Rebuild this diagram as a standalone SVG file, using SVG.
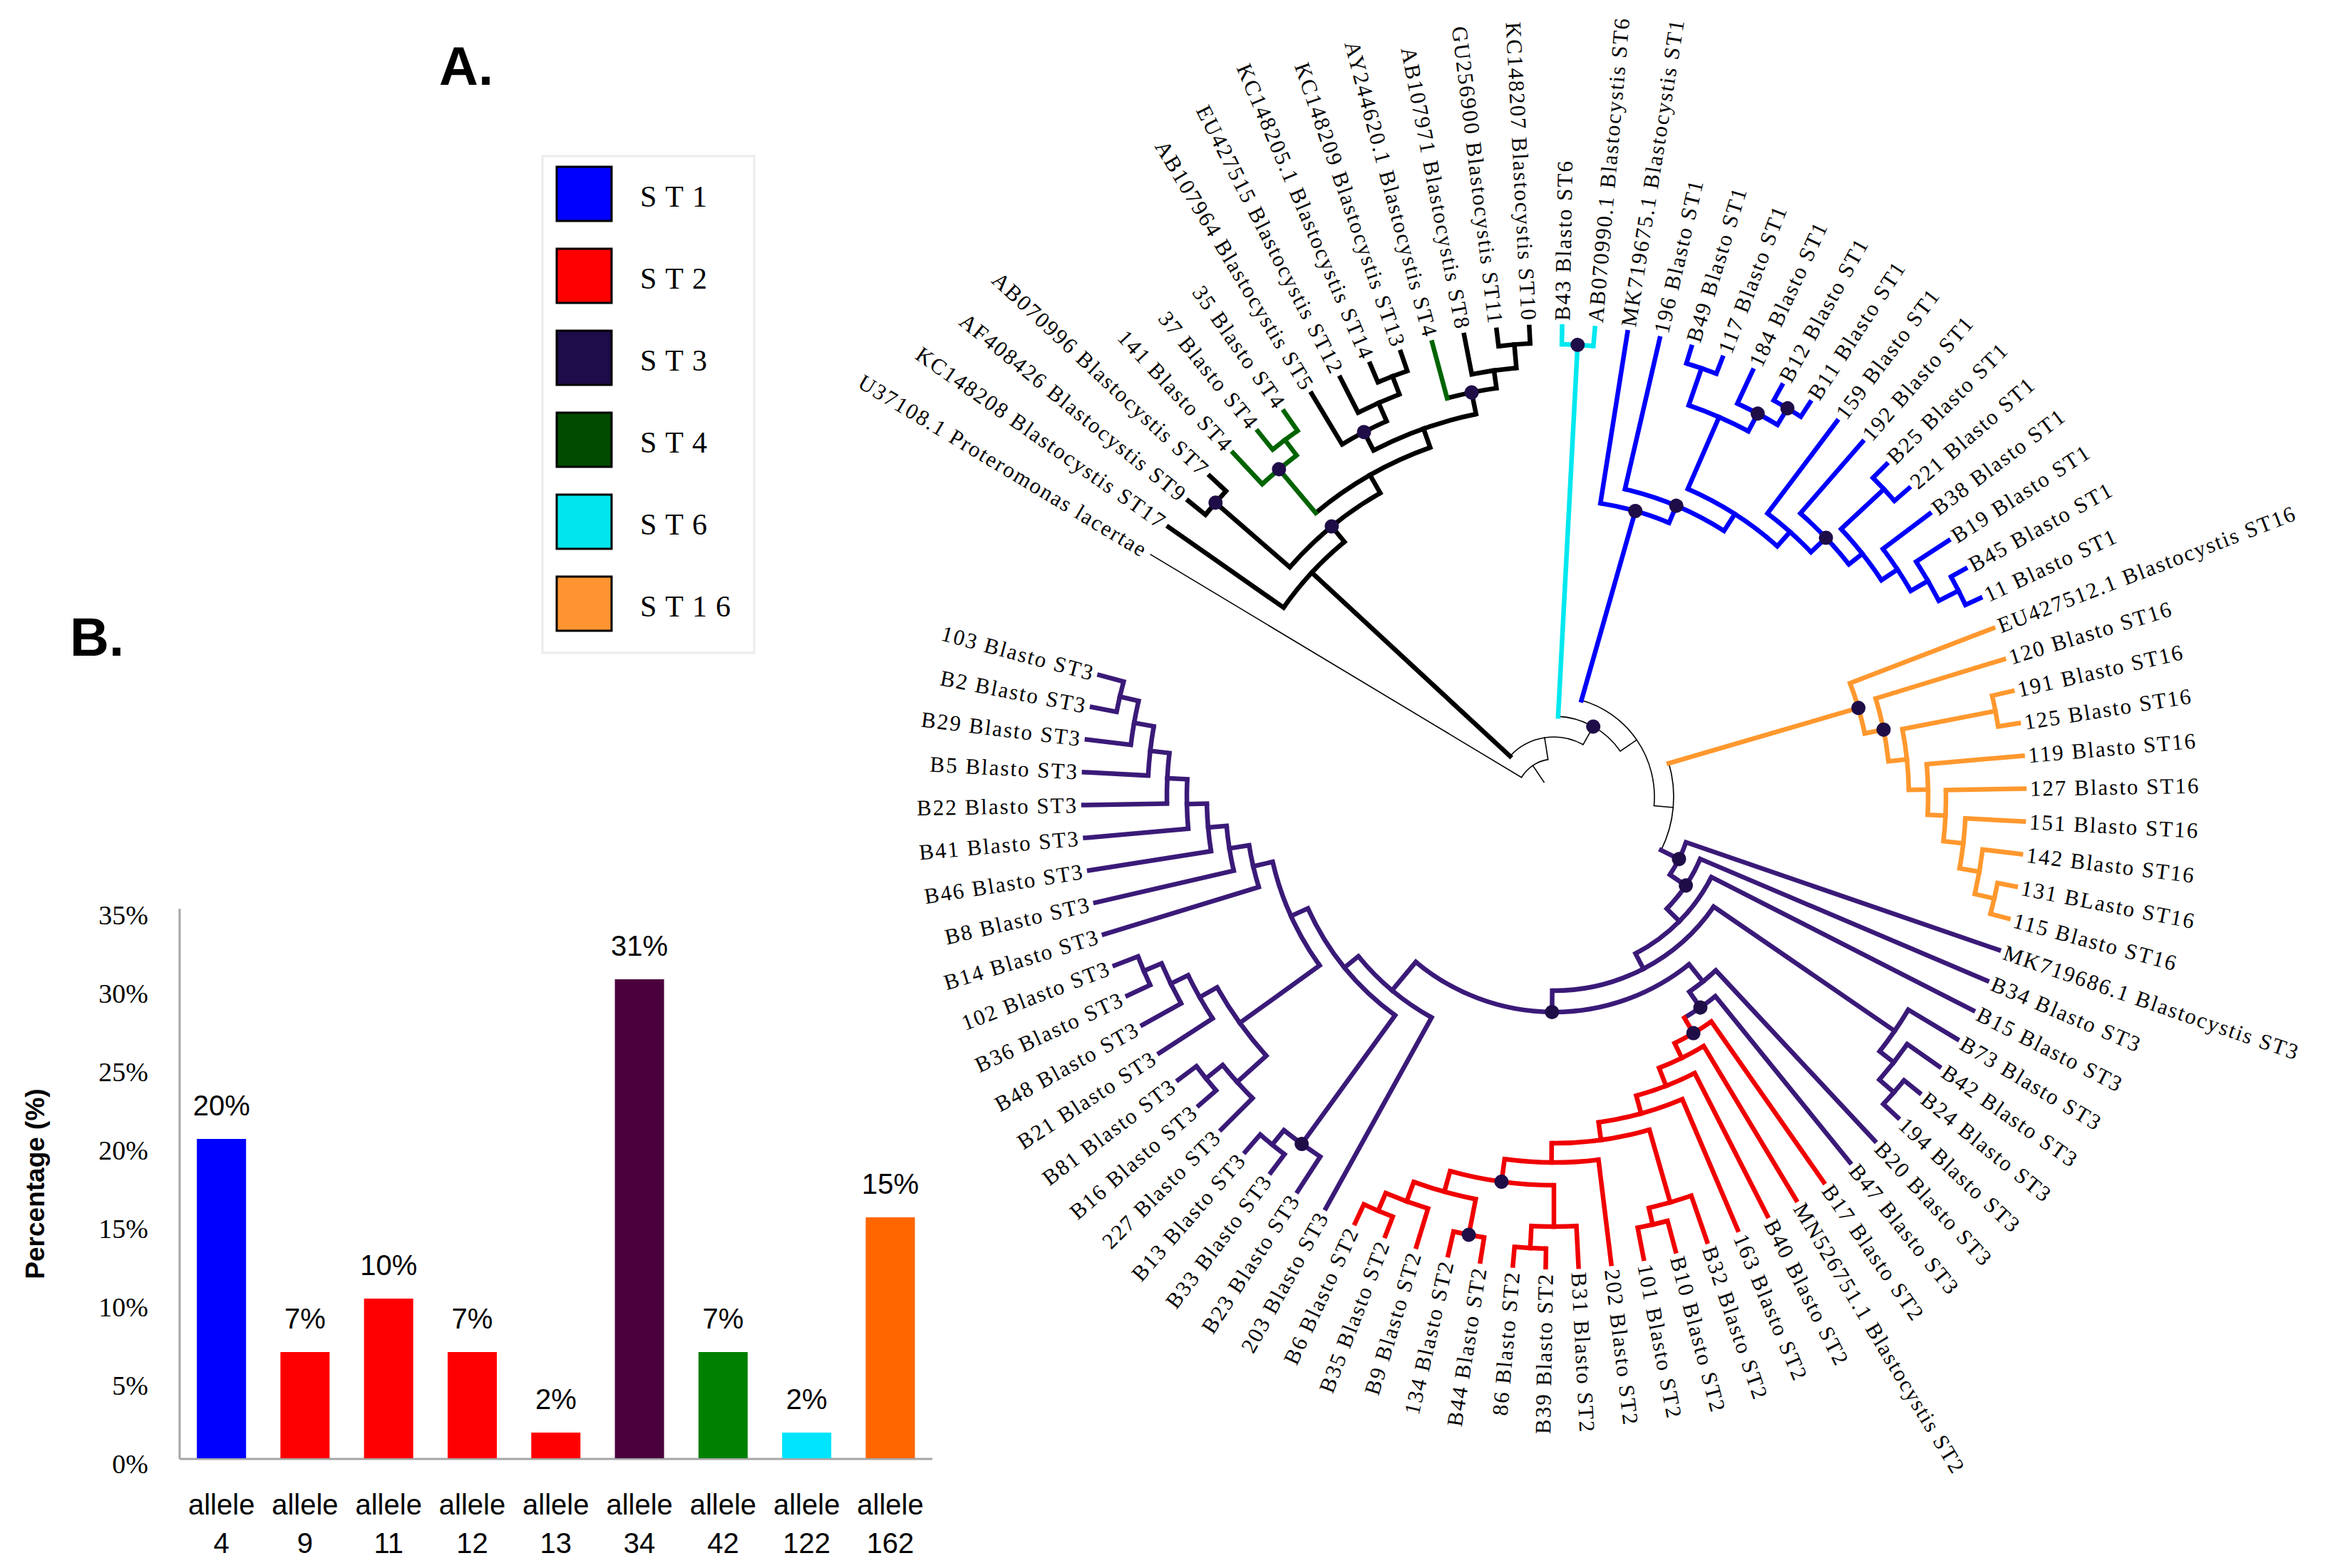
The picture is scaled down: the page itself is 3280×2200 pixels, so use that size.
<svg xmlns="http://www.w3.org/2000/svg" width="3280" height="2200" viewBox="0 0 3280 2200">
<style>
text{font-family:"Liberation Serif","Times New Roman",serif}
.lf{font-size:31px;letter-spacing:2px;dominant-baseline:central;fill:#000}
.e{text-anchor:end}
line{stroke-width:6.5;stroke-linecap:square;fill:none}
.a{fill:none;stroke-width:6.5}
.t{stroke:#000;stroke-width:1.6}
.K{stroke:#000}
.B{stroke:#0000fa}
.R{stroke:#f00000}
.P{stroke:#3a1a78}
.O{stroke:#ff982e}
.G{stroke:#006400}
.C{stroke:#00e8ef}
.d{fill:#1f0d48}
.sw{stroke:#000;stroke-width:3}
.lg{font-size:42px;letter-spacing:12px;fill:#000}
.s{font-family:"Liberation Sans",Arial,sans-serif}
.ax{font-size:38px;fill:#000}
.xl{font-size:40px;fill:#000;text-anchor:middle}
.axl{stroke:#a6a6a6;stroke-width:3;stroke-linecap:butt}
.hd{font-family:"Liberation Sans",Arial,sans-serif;font-weight:bold;font-size:76px;fill:#000}
</style>
<rect width="3280" height="2200" fill="#fff"/>
<text class="hd" x="616" y="119">A.</text>
<text class="hd" x="98" y="920">B.</text>
<g id="legend">
<rect x="761" y="219" width="297" height="697" fill="#fff" stroke="#ececec" stroke-width="3"/>
<g id="leg-st1"><rect class="sw" x="781" y="234" width="77" height="76" fill="#0000ff"/><text class="lg" x="898" y="290">ST1</text></g>
<g id="leg-st2"><rect class="sw" x="781" y="349" width="77" height="76" fill="#ff0000"/><text class="lg" x="898" y="405">ST2</text></g>
<g id="leg-st3"><rect class="sw" x="781" y="464" width="77" height="76" fill="#1d0b4a"/><text class="lg" x="898" y="520">ST3</text></g>
<g id="leg-st4"><rect class="sw" x="781" y="579" width="77" height="76" fill="#004b00"/><text class="lg" x="898" y="635">ST4</text></g>
<g id="leg-st6"><rect class="sw" x="781" y="694" width="77" height="76" fill="#00e6ec"/><text class="lg" x="898" y="750">ST6</text></g>
<g id="leg-st16"><rect class="sw" x="781" y="809" width="77" height="76" fill="#ff9430"/><text class="lg" x="898" y="865">ST16</text></g>
</g>
<g id="tree" transform="translate(2180 1118)">
<g id="connectors">
<line class="t" x1="25" x2="53" transform="rotate(-124)"/>
<circle class="a t" r="53" pathLength="360" stroke-dasharray="50.02 360" transform="rotate(-149)"/>
<line class="t" x1="53" x2="660" transform="rotate(-149)"/>
<line class="t" x1="53" x2="84" transform="rotate(-98.98)"/>
<circle class="a t" r="84" pathLength="360" stroke-dasharray="76.45 360" transform="rotate(-137.2)"/>
<line class="t" x1="84" x2="113" transform="rotate(-60.75)"/>
<circle class="a t" r="113" pathLength="360" stroke-dasharray="52.5 360" transform="rotate(-87)"/>
<line class="t" x1="113" x2="141" transform="rotate(-34.5)"/>
<circle class="a t" r="141" pathLength="360" stroke-dasharray="79.19 360" transform="rotate(-74.1)"/>
<line class="t" x1="141" x2="168" transform="rotate(5.09)"/>
<circle class="a t" r="168" pathLength="360" stroke-dasharray="42.72 360" transform="rotate(-16.27)"/>

<line class="K" x1="84" x2="463" transform="rotate(-137.2)"/>
<circle class="a K" r="463" pathLength="360" stroke-dasharray="15.6 360" transform="rotate(-145)"/>
<line class="K" x1="463" x2="660" transform="rotate(-145)"/>
<line class="K" x1="463" x2="491" transform="rotate(-129.4)"/>
<circle class="a K" r="491" pathLength="360" stroke-dasharray="19.25 360" transform="rotate(-139)"/>
<line class="K" x1="491" x2="629" transform="rotate(-139)"/>
<circle class="a K" r="629" pathLength="360" stroke-dasharray="4 360" transform="rotate(-141)"/>
<line class="K" x1="629" x2="660" transform="rotate(-141)"/>
<line class="K" x1="629" x2="660" transform="rotate(-137)"/>
<line class="K" x1="491" x2="520" transform="rotate(-119.75)"/>
<circle class="a K" r="520" pathLength="360" stroke-dasharray="20.5 360" transform="rotate(-130)"/>
<line class="K" x1="520" x2="548" transform="rotate(-109.5)"/>
<circle class="a K" r="548" pathLength="360" stroke-dasharray="16 360" transform="rotate(-117.5)"/>
<line class="K" x1="548" x2="577" transform="rotate(-117.5)"/>
<circle class="a K" r="577" pathLength="360" stroke-dasharray="7 360" transform="rotate(-121)"/>
<line class="K" x1="577" x2="660" transform="rotate(-121)"/>
<line class="K" x1="577" x2="605" transform="rotate(-114)"/>
<circle class="a K" r="605" pathLength="360" stroke-dasharray="6 360" transform="rotate(-117)"/>
<line class="K" x1="605" x2="660" transform="rotate(-117)"/>
<line class="K" x1="605" x2="632" transform="rotate(-111)"/>
<circle class="a K" r="632" pathLength="360" stroke-dasharray="4 360" transform="rotate(-113)"/>
<line class="K" x1="632" x2="660" transform="rotate(-113)"/>
<line class="K" x1="632" x2="660" transform="rotate(-109)"/>
<line class="K" x1="548" x2="579" transform="rotate(-101.5)"/>
<circle class="a K" r="579" pathLength="360" stroke-dasharray="7 360" transform="rotate(-105)"/>
<line class="K" x1="579" x2="604" transform="rotate(-98)"/>
<circle class="a K" r="604" pathLength="360" stroke-dasharray="6 360" transform="rotate(-101)"/>
<line class="K" x1="604" x2="660" transform="rotate(-101)"/>
<line class="K" x1="604" x2="637" transform="rotate(-95)"/>
<circle class="a K" r="637" pathLength="360" stroke-dasharray="4 360" transform="rotate(-97)"/>
<line class="K" x1="637" x2="660" transform="rotate(-97)"/>
<line class="K" x1="637" x2="660" transform="rotate(-93)"/>
<line class="G" x1="520" x2="600" transform="rotate(-130)"/>
<circle class="a G" r="600" pathLength="360" stroke-dasharray="6 360" transform="rotate(-133)"/>
<line class="G" x1="600" x2="660" transform="rotate(-133)"/>
<line class="G" x1="600" x2="627" transform="rotate(-127)"/>
<circle class="a G" r="627" pathLength="360" stroke-dasharray="4 360" transform="rotate(-129)"/>
<line class="G" x1="627" x2="660" transform="rotate(-129)"/>
<line class="G" x1="627" x2="660" transform="rotate(-125)"/>
<line class="G" x1="579" x2="660" transform="rotate(-105)"/>

<line class="C" x1="113" x2="635" transform="rotate(-87)"/>
<circle class="a C" r="635" pathLength="360" stroke-dasharray="4 360" transform="rotate(-89)"/>
<line class="C" x1="635" x2="660" transform="rotate(-89)"/>
<line class="C" x1="635" x2="660" transform="rotate(-85)"/>

<line class="B" x1="141" x2="417" transform="rotate(-74.1)"/>
<circle class="a B" r="417" pathLength="360" stroke-dasharray="13.8 360" transform="rotate(-81)"/>
<line class="B" x1="417" x2="660" transform="rotate(-81)"/>
<line class="B" x1="417" x2="443" transform="rotate(-67.2)"/>
<circle class="a B" r="443" pathLength="360" stroke-dasharray="19.6 360" transform="rotate(-77)"/>
<line class="B" x1="443" x2="660" transform="rotate(-77)"/>
<line class="B" x1="443" x2="471" transform="rotate(-57.4)"/>
<circle class="a B" r="471" pathLength="360" stroke-dasharray="18.2 360" transform="rotate(-66.5)"/>
<line class="B" x1="471" x2="581" transform="rotate(-66.5)"/>
<circle class="a B" r="581" pathLength="360" stroke-dasharray="9 360" transform="rotate(-71)"/>
<line class="B" x1="581" x2="636" transform="rotate(-71)"/>
<circle class="a B" r="636" pathLength="360" stroke-dasharray="4 360" transform="rotate(-73)"/>
<line class="B" x1="636" x2="660" transform="rotate(-73)"/>
<line class="B" x1="636" x2="660" transform="rotate(-69)"/>
<line class="B" x1="581" x2="609" transform="rotate(-62)"/>
<circle class="a B" r="609" pathLength="360" stroke-dasharray="6 360" transform="rotate(-65)"/>
<line class="B" x1="609" x2="660" transform="rotate(-65)"/>
<line class="B" x1="609" x2="636" transform="rotate(-59)"/>
<circle class="a B" r="636" pathLength="360" stroke-dasharray="4 360" transform="rotate(-61)"/>
<line class="B" x1="636" x2="660" transform="rotate(-61)"/>
<line class="B" x1="636" x2="660" transform="rotate(-57)"/>
<line class="B" x1="471" x2="498" transform="rotate(-48.3)"/>
<circle class="a B" r="498" pathLength="360" stroke-dasharray="9.4 360" transform="rotate(-53)"/>
<line class="B" x1="498" x2="660" transform="rotate(-53)"/>
<line class="B" x1="498" x2="527" transform="rotate(-43.6)"/>
<circle class="a B" r="527" pathLength="360" stroke-dasharray="10.75 360" transform="rotate(-49)"/>
<line class="B" x1="527" x2="660" transform="rotate(-49)"/>
<line class="B" x1="527" x2="551" transform="rotate(-38.25)"/>
<circle class="a B" r="551" pathLength="360" stroke-dasharray="9.5 360" transform="rotate(-43)"/>
<line class="B" x1="551" x2="633" transform="rotate(-43)"/>
<circle class="a B" r="633" pathLength="360" stroke-dasharray="4 360" transform="rotate(-45)"/>
<line class="B" x1="633" x2="660" transform="rotate(-45)"/>
<line class="B" x1="633" x2="660" transform="rotate(-41)"/>
<line class="B" x1="551" x2="578" transform="rotate(-33.5)"/>
<circle class="a B" r="578" pathLength="360" stroke-dasharray="7 360" transform="rotate(-37)"/>
<line class="B" x1="578" x2="660" transform="rotate(-37)"/>
<line class="B" x1="578" x2="606" transform="rotate(-30)"/>
<circle class="a B" r="606" pathLength="360" stroke-dasharray="6 360" transform="rotate(-33)"/>
<line class="B" x1="606" x2="660" transform="rotate(-33)"/>
<line class="B" x1="606" x2="637" transform="rotate(-27)"/>
<circle class="a B" r="637" pathLength="360" stroke-dasharray="4 360" transform="rotate(-29)"/>
<line class="B" x1="637" x2="660" transform="rotate(-29)"/>
<line class="B" x1="637" x2="660" transform="rotate(-25)"/>

<line class="O" x1="168" x2="445" transform="rotate(-16.27)"/>
<circle class="a O" r="445" pathLength="360" stroke-dasharray="9.47 360" transform="rotate(-21)"/>
<line class="O" x1="445" x2="660" transform="rotate(-21)"/>
<line class="O" x1="445" x2="472" transform="rotate(-11.53)"/>
<circle class="a O" r="472" pathLength="360" stroke-dasharray="10.94 360" transform="rotate(-17)"/>
<line class="O" x1="472" x2="660" transform="rotate(-17)"/>
<line class="O" x1="472" x2="498" transform="rotate(-6.06)"/>
<circle class="a O" r="498" pathLength="360" stroke-dasharray="9.875 360" transform="rotate(-11)"/>
<line class="O" x1="498" x2="631" transform="rotate(-11)"/>
<circle class="a O" r="631" pathLength="360" stroke-dasharray="4 360" transform="rotate(-13)"/>
<line class="O" x1="631" x2="660" transform="rotate(-13)"/>
<line class="O" x1="631" x2="660" transform="rotate(-9)"/>
<line class="O" x1="498" x2="525" transform="rotate(-1.125)"/>
<circle class="a O" r="525" pathLength="360" stroke-dasharray="7.75 360" transform="rotate(-5)"/>
<line class="O" x1="525" x2="660" transform="rotate(-5)"/>
<line class="O" x1="525" x2="550" transform="rotate(2.75)"/>
<circle class="a O" r="550" pathLength="360" stroke-dasharray="7.5 360" transform="rotate(-1)"/>
<line class="O" x1="550" x2="660" transform="rotate(-1)"/>
<line class="O" x1="550" x2="578" transform="rotate(6.5)"/>
<circle class="a O" r="578" pathLength="360" stroke-dasharray="7 360" transform="rotate(3)"/>
<line class="O" x1="578" x2="660" transform="rotate(3)"/>
<line class="O" x1="578" x2="606" transform="rotate(10)"/>
<circle class="a O" r="606" pathLength="360" stroke-dasharray="6 360" transform="rotate(7)"/>
<line class="O" x1="606" x2="660" transform="rotate(7)"/>
<line class="O" x1="606" x2="634" transform="rotate(13)"/>
<circle class="a O" r="634" pathLength="360" stroke-dasharray="4 360" transform="rotate(11)"/>
<line class="O" x1="634" x2="660" transform="rotate(11)"/>
<line class="O" x1="634" x2="660" transform="rotate(15)"/>

<line class="P" x1="168" x2="196" transform="rotate(26.45)"/>
<circle class="a P" r="196" pathLength="360" stroke-dasharray="14.9 360" transform="rotate(19)"/>
<line class="P" x1="196" x2="660" transform="rotate(19)"/>
<line class="P" x1="196" x2="223" transform="rotate(33.9)"/>
<circle class="a P" r="223" pathLength="360" stroke-dasharray="21.75 360" transform="rotate(23)"/>
<line class="P" x1="223" x2="660" transform="rotate(23)"/>
<line class="P" x1="223" x2="248" transform="rotate(44.75)"/>
<circle class="a P" r="248" pathLength="360" stroke-dasharray="35.5 360" transform="rotate(27)"/>
<line class="P" x1="248" x2="660" transform="rotate(27)"/>
<line class="P" x1="248" x2="272" transform="rotate(62.5)"/>
<circle class="a P" r="272" pathLength="360" stroke-dasharray="56 360" transform="rotate(34.5)"/>
<line class="P" x1="272" x2="580" transform="rotate(34.5)"/>
<circle class="a P" r="580" pathLength="360" stroke-dasharray="7 360" transform="rotate(31)"/>
<line class="P" x1="580" x2="660" transform="rotate(31)"/>
<line class="P" x1="580" x2="605" transform="rotate(38)"/>
<circle class="a P" r="605" pathLength="360" stroke-dasharray="6 360" transform="rotate(35)"/>
<line class="P" x1="605" x2="660" transform="rotate(35)"/>
<line class="P" x1="605" x2="632" transform="rotate(41)"/>
<circle class="a P" r="632" pathLength="360" stroke-dasharray="4 360" transform="rotate(39)"/>
<line class="P" x1="632" x2="660" transform="rotate(39)"/>
<line class="P" x1="632" x2="660" transform="rotate(43)"/>
<line class="P" x1="272" x2="302" transform="rotate(90.5)"/>
<circle class="a P" r="302" pathLength="360" stroke-dasharray="78.8 360" transform="rotate(51.1)"/>
<line class="P" x1="302" x2="333" transform="rotate(51.1)"/>
<circle class="a P" r="333" pathLength="360" stroke-dasharray="8.2 360" transform="rotate(47)"/>
<line class="P" x1="333" x2="660" transform="rotate(47)"/>
<line class="P" x1="333" x2="360" transform="rotate(55.2)"/>
<circle class="a P" r="360" pathLength="360" stroke-dasharray="8.45 360" transform="rotate(51)"/>
<line class="P" x1="360" x2="660" transform="rotate(51)"/>
<line class="P" x1="302" x2="354" transform="rotate(129.9)"/>
<circle class="a P" r="354" pathLength="360" stroke-dasharray="21.8 360" transform="rotate(119)"/>
<line class="P" x1="354" x2="660" transform="rotate(119)"/>
<line class="P" x1="354" x2="379" transform="rotate(140.8)"/>
<circle class="a P" r="379" pathLength="360" stroke-dasharray="29.6 360" transform="rotate(126)"/>
<line class="P" x1="379" x2="602" transform="rotate(126)"/>
<circle class="a P" r="602" pathLength="360" stroke-dasharray="6 360" transform="rotate(123)"/>
<line class="P" x1="602" x2="660" transform="rotate(123)"/>
<line class="P" x1="602" x2="628" transform="rotate(129)"/>
<circle class="a P" r="628" pathLength="360" stroke-dasharray="4 360" transform="rotate(127)"/>
<line class="P" x1="628" x2="660" transform="rotate(127)"/>
<line class="P" x1="628" x2="660" transform="rotate(131)"/>
<line class="P" x1="379" x2="405" transform="rotate(155.6)"/>
<circle class="a P" r="405" pathLength="360" stroke-dasharray="22.73 360" transform="rotate(144.25)"/>
<line class="P" x1="405" x2="543" transform="rotate(144.25)"/>
<circle class="a P" r="543" pathLength="360" stroke-dasharray="12.5 360" transform="rotate(138)"/>
<line class="P" x1="543" x2="598" transform="rotate(138)"/>
<circle class="a P" r="598" pathLength="360" stroke-dasharray="6 360" transform="rotate(135)"/>
<line class="P" x1="598" x2="660" transform="rotate(135)"/>
<line class="P" x1="598" x2="628" transform="rotate(141)"/>
<circle class="a P" r="628" pathLength="360" stroke-dasharray="4 360" transform="rotate(139)"/>
<line class="P" x1="628" x2="660" transform="rotate(139)"/>
<line class="P" x1="628" x2="660" transform="rotate(143)"/>
<line class="P" x1="543" x2="571" transform="rotate(150.5)"/>
<circle class="a P" r="571" pathLength="360" stroke-dasharray="7 360" transform="rotate(147)"/>
<line class="P" x1="571" x2="660" transform="rotate(147)"/>
<line class="P" x1="571" x2="598" transform="rotate(154)"/>
<circle class="a P" r="598" pathLength="360" stroke-dasharray="6 360" transform="rotate(151)"/>
<line class="P" x1="598" x2="660" transform="rotate(151)"/>
<line class="P" x1="598" x2="625" transform="rotate(157)"/>
<circle class="a P" r="625" pathLength="360" stroke-dasharray="4 360" transform="rotate(155)"/>
<line class="P" x1="625" x2="660" transform="rotate(155)"/>
<line class="P" x1="625" x2="660" transform="rotate(159)"/>
<line class="P" x1="405" x2="433" transform="rotate(166.98)"/>
<circle class="a P" r="433" pathLength="360" stroke-dasharray="7.97 360" transform="rotate(163)"/>
<line class="P" x1="433" x2="660" transform="rotate(163)"/>
<line class="P" x1="433" x2="461" transform="rotate(170.97)"/>
<circle class="a P" r="461" pathLength="360" stroke-dasharray="7.94 360" transform="rotate(167)"/>
<line class="P" x1="461" x2="660" transform="rotate(167)"/>
<line class="P" x1="461" x2="487" transform="rotate(174.94)"/>
<circle class="a P" r="487" pathLength="360" stroke-dasharray="7.875 360" transform="rotate(171)"/>
<line class="P" x1="487" x2="660" transform="rotate(171)"/>
<line class="P" x1="487" x2="515" transform="rotate(178.875)"/>
<circle class="a P" r="515" pathLength="360" stroke-dasharray="7.75 360" transform="rotate(175)"/>
<line class="P" x1="515" x2="660" transform="rotate(175)"/>
<line class="P" x1="515" x2="543" transform="rotate(182.75)"/>
<circle class="a P" r="543" pathLength="360" stroke-dasharray="7.5 360" transform="rotate(179)"/>
<line class="P" x1="543" x2="660" transform="rotate(179)"/>
<line class="P" x1="543" x2="570" transform="rotate(186.5)"/>
<circle class="a P" r="570" pathLength="360" stroke-dasharray="7 360" transform="rotate(183)"/>
<line class="P" x1="570" x2="660" transform="rotate(183)"/>
<line class="P" x1="570" x2="598" transform="rotate(190)"/>
<circle class="a P" r="598" pathLength="360" stroke-dasharray="6 360" transform="rotate(187)"/>
<line class="P" x1="598" x2="660" transform="rotate(187)"/>
<line class="P" x1="598" x2="625" transform="rotate(193)"/>
<circle class="a P" r="625" pathLength="360" stroke-dasharray="4 360" transform="rotate(191)"/>
<line class="P" x1="625" x2="660" transform="rotate(191)"/>
<line class="P" x1="625" x2="660" transform="rotate(195)"/>

<line class="R" x1="360" x2="385" transform="rotate(59.45)"/>
<circle class="a R" r="385" pathLength="360" stroke-dasharray="8.9 360" transform="rotate(55)"/>
<line class="R" x1="385" x2="660" transform="rotate(55)"/>
<line class="R" x1="385" x2="408" transform="rotate(63.9)"/>
<circle class="a R" r="408" pathLength="360" stroke-dasharray="9.8 360" transform="rotate(59)"/>
<line class="R" x1="408" x2="660" transform="rotate(59)"/>
<line class="R" x1="408" x2="435" transform="rotate(68.8)"/>
<circle class="a R" r="435" pathLength="360" stroke-dasharray="11.6 360" transform="rotate(63)"/>
<line class="R" x1="435" x2="660" transform="rotate(63)"/>
<line class="R" x1="435" x2="461" transform="rotate(74.6)"/>
<circle class="a R" r="461" pathLength="360" stroke-dasharray="15.19 360" transform="rotate(67)"/>
<line class="R" x1="461" x2="660" transform="rotate(67)"/>
<line class="R" x1="461" x2="486" transform="rotate(82.19)"/>
<circle class="a R" r="486" pathLength="360" stroke-dasharray="16.375 360" transform="rotate(74)"/>
<line class="R" x1="486" x2="592" transform="rotate(74)"/>
<circle class="a R" r="592" pathLength="360" stroke-dasharray="6 360" transform="rotate(71)"/>
<line class="R" x1="592" x2="660" transform="rotate(71)"/>
<line class="R" x1="592" x2="616" transform="rotate(77)"/>
<circle class="a R" r="616" pathLength="360" stroke-dasharray="4 360" transform="rotate(75)"/>
<line class="R" x1="616" x2="660" transform="rotate(75)"/>
<line class="R" x1="616" x2="660" transform="rotate(79)"/>
<line class="R" x1="486" x2="513" transform="rotate(90.375)"/>
<circle class="a R" r="513" pathLength="360" stroke-dasharray="14.75 360" transform="rotate(83)"/>
<line class="R" x1="513" x2="660" transform="rotate(83)"/>
<line class="R" x1="513" x2="545" transform="rotate(97.75)"/>
<circle class="a R" r="545" pathLength="360" stroke-dasharray="15.5 360" transform="rotate(90)"/>
<line class="R" x1="545" x2="603" transform="rotate(90)"/>
<circle class="a R" r="603" pathLength="360" stroke-dasharray="6 360" transform="rotate(87)"/>
<line class="R" x1="603" x2="660" transform="rotate(87)"/>
<line class="R" x1="603" x2="634" transform="rotate(93)"/>
<circle class="a R" r="634" pathLength="360" stroke-dasharray="4 360" transform="rotate(91)"/>
<line class="R" x1="634" x2="660" transform="rotate(91)"/>
<line class="R" x1="634" x2="660" transform="rotate(95)"/>
<line class="R" x1="545" x2="575" transform="rotate(105.5)"/>
<circle class="a R" r="575" pathLength="360" stroke-dasharray="9 360" transform="rotate(101)"/>
<line class="R" x1="575" x2="626" transform="rotate(101)"/>
<circle class="a R" r="626" pathLength="360" stroke-dasharray="4 360" transform="rotate(99)"/>
<line class="R" x1="626" x2="660" transform="rotate(99)"/>
<line class="R" x1="626" x2="660" transform="rotate(103)"/>
<line class="R" x1="575" x2="604" transform="rotate(110)"/>
<circle class="a R" r="604" pathLength="360" stroke-dasharray="6 360" transform="rotate(107)"/>
<line class="R" x1="604" x2="660" transform="rotate(107)"/>
<line class="R" x1="604" x2="631" transform="rotate(113)"/>
<circle class="a R" r="631" pathLength="360" stroke-dasharray="4 360" transform="rotate(111)"/>
<line class="R" x1="631" x2="660" transform="rotate(111)"/>
<line class="R" x1="631" x2="660" transform="rotate(115)"/>
</g>
<g id="support-dots">
<circle class="d" r="10" transform="rotate(-60.75) translate(113 0)"/>
<circle class="d" r="10" transform="rotate(-129.4) translate(491 0)"/>
<circle class="d" r="10" transform="rotate(-139) translate(629 0)"/>
<circle class="d" r="10" transform="rotate(-130) translate(600 0)"/>
<circle class="d" r="10" transform="rotate(-117.5) translate(577 0)"/>
<circle class="d" r="10" transform="rotate(-101.5) translate(579 0)"/>
<circle class="d" r="10" transform="rotate(-87) translate(635 0)"/>
<circle class="d" r="10" transform="rotate(-74.1) translate(417 0)"/>
<circle class="d" r="10" transform="rotate(-67.2) translate(443 0)"/>
<circle class="d" r="10" transform="rotate(-62) translate(609 0)"/>
<circle class="d" r="10" transform="rotate(-59) translate(636 0)"/>
<circle class="d" r="10" transform="rotate(-43.6) translate(527 0)"/>
<circle class="d" r="10" transform="rotate(-16.27) translate(445 0)"/>
<circle class="d" r="10" transform="rotate(-11.53) translate(472 0)"/>
<circle class="d" r="10" transform="rotate(26.45) translate(196 0)"/>
<circle class="d" r="10" transform="rotate(33.9) translate(223 0)"/>
<circle class="d" r="10" transform="rotate(90.5) translate(302 0)"/>
<circle class="d" r="10" transform="rotate(55.2) translate(360 0)"/>
<circle class="d" r="10" transform="rotate(126) translate(602 0)"/>
<circle class="d" r="10" transform="rotate(59.45) translate(385 0)"/>
<circle class="d" r="10" transform="rotate(97.75) translate(545 0)"/>
<circle class="d" r="10" transform="rotate(101) translate(626 0)"/>
</g>
<g id="leaf-labels">
<text class="lf" transform="rotate(-89) translate(668 0)">B43 Blasto ST6</text>
<text class="lf" transform="rotate(-85) translate(668 0)">AB070990.1 Blastocystis ST6</text>
<text class="lf" transform="rotate(-81) translate(668 0)">MK719675.1 Blastocystis ST1</text>
<text class="lf" transform="rotate(-77) translate(668 0)">196 Blasto ST1</text>
<text class="lf" transform="rotate(-73) translate(668 0)">B49 Blasto ST1</text>
<text class="lf" transform="rotate(-69) translate(668 0)">117 Blasto ST1</text>
<text class="lf" transform="rotate(-65) translate(668 0)">184 Blasto ST1</text>
<text class="lf" transform="rotate(-61) translate(668 0)">B12 Blasto ST1</text>
<text class="lf" transform="rotate(-57) translate(668 0)">B11 Blasto ST1</text>
<text class="lf" transform="rotate(-53) translate(668 0)">159 Blasto ST1</text>
<text class="lf" transform="rotate(-49) translate(668 0)">192 Blasto ST1</text>
<text class="lf" transform="rotate(-45) translate(668 0)">B25 Blasto ST1</text>
<text class="lf" transform="rotate(-41) translate(668 0)">221 Blasto ST1</text>
<text class="lf" transform="rotate(-37) translate(668 0)">B38 Blasto ST1</text>
<text class="lf" transform="rotate(-33) translate(668 0)">B19 Blasto ST1</text>
<text class="lf" transform="rotate(-29) translate(668 0)">B45 Blasto ST1</text>
<text class="lf" transform="rotate(-25) translate(668 0)">11 Blasto ST1</text>
<text class="lf" transform="rotate(-21) translate(668 0)">EU427512.1 Blastocystis ST16</text>
<text class="lf" transform="rotate(-17) translate(668 0)">120 Blasto ST16</text>
<text class="lf" transform="rotate(-13) translate(668 0)">191 Blasto ST16</text>
<text class="lf" transform="rotate(-9) translate(668 0)">125 Blasto ST16</text>
<text class="lf" transform="rotate(-5) translate(668 0)">119 Blasto ST16</text>
<text class="lf" transform="rotate(-1) translate(668 0)">127 Blasto ST16</text>
<text class="lf" transform="rotate(3) translate(668 0)">151 Blasto ST16</text>
<text class="lf" transform="rotate(7) translate(668 0)">142 Blasto ST16</text>
<text class="lf" transform="rotate(11) translate(668 0)">131 BLasto ST16</text>
<text class="lf" transform="rotate(15) translate(668 0)">115 Blasto ST16</text>
<text class="lf" transform="rotate(19) translate(668 0)">MK719686.1 Blastocystis ST3</text>
<text class="lf" transform="rotate(23) translate(668 0)">B34 Blasto ST3</text>
<text class="lf" transform="rotate(27) translate(668 0)">B15 Blasto ST3</text>
<text class="lf" transform="rotate(31) translate(668 0)">B73 Blasto ST3</text>
<text class="lf" transform="rotate(35) translate(668 0)">B42 Blasto ST3</text>
<text class="lf" transform="rotate(39) translate(668 0)">B24 Blasto ST3</text>
<text class="lf" transform="rotate(43) translate(668 0)">194 Blasto ST3</text>
<text class="lf" transform="rotate(47) translate(668 0)">B20 Blasto ST3</text>
<text class="lf" transform="rotate(51) translate(668 0)">B47 Blasto ST3</text>
<text class="lf" transform="rotate(55) translate(668 0)">B17 Blasto ST2</text>
<text class="lf" transform="rotate(59) translate(668 0)">MN526751.1 Blastocystis ST2</text>
<text class="lf" transform="rotate(63) translate(668 0)">B40 Blasto ST2</text>
<text class="lf" transform="rotate(67) translate(668 0)">163 Blasto ST2</text>
<text class="lf" transform="rotate(71) translate(668 0)">B32 Blasto ST2</text>
<text class="lf" transform="rotate(75) translate(668 0)">B10 Blasto ST2</text>
<text class="lf" transform="rotate(79) translate(668 0)">101 Blasto ST2</text>
<text class="lf" transform="rotate(83) translate(668 0)">202 Blasto ST2</text>
<text class="lf" transform="rotate(87) translate(668 0)">B31 Blasto ST2</text>
<text class="lf e" transform="rotate(91) translate(668 0) rotate(180)">B39 Blasto ST2</text>
<text class="lf e" transform="rotate(95) translate(668 0) rotate(180)">86 Blasto ST2</text>
<text class="lf e" transform="rotate(99) translate(668 0) rotate(180)">B44 Blasto ST2</text>
<text class="lf e" transform="rotate(103) translate(668 0) rotate(180)">134 Blasto ST2</text>
<text class="lf e" transform="rotate(107) translate(668 0) rotate(180)">B9 Blasto ST2</text>
<text class="lf e" transform="rotate(111) translate(668 0) rotate(180)">B35 Blasto ST2</text>
<text class="lf e" transform="rotate(115) translate(668 0) rotate(180)">B6 Blasto ST2</text>
<text class="lf e" transform="rotate(119) translate(668 0) rotate(180)">203 Blasto ST3</text>
<text class="lf e" transform="rotate(123) translate(668 0) rotate(180)">B23 Blasto ST3</text>
<text class="lf e" transform="rotate(127) translate(668 0) rotate(180)">B33 Blasto ST3</text>
<text class="lf e" transform="rotate(131) translate(668 0) rotate(180)">B13 Blasto ST3</text>
<text class="lf e" transform="rotate(135) translate(668 0) rotate(180)">227 Blasto ST3</text>
<text class="lf e" transform="rotate(139) translate(668 0) rotate(180)">B16 Blasto ST3</text>
<text class="lf e" transform="rotate(143) translate(668 0) rotate(180)">B81 Blasto ST3</text>
<text class="lf e" transform="rotate(147) translate(668 0) rotate(180)">B21 Blasto ST3</text>
<text class="lf e" transform="rotate(151) translate(668 0) rotate(180)">B48 Blasto ST3</text>
<text class="lf e" transform="rotate(155) translate(668 0) rotate(180)">B36 Blasto ST3</text>
<text class="lf e" transform="rotate(159) translate(668 0) rotate(180)">102 Blasto ST3</text>
<text class="lf e" transform="rotate(163) translate(668 0) rotate(180)">B14 Blasto ST3</text>
<text class="lf e" transform="rotate(167) translate(668 0) rotate(180)">B8 Blasto ST3</text>
<text class="lf e" transform="rotate(171) translate(668 0) rotate(180)">B46 Blasto ST3</text>
<text class="lf e" transform="rotate(175) translate(668 0) rotate(180)">B41 Blasto ST3</text>
<text class="lf e" transform="rotate(179) translate(668 0) rotate(180)">B22 Blasto ST3</text>
<text class="lf e" transform="rotate(183) translate(668 0) rotate(180)">B5 Blasto ST3</text>
<text class="lf e" transform="rotate(187) translate(668 0) rotate(180)">B29 Blasto ST3</text>
<text class="lf e" transform="rotate(191) translate(668 0) rotate(180)">B2 Blasto ST3</text>
<text class="lf e" transform="rotate(195) translate(668 0) rotate(180)">103 Blasto ST3</text>
<text class="lf e" transform="rotate(-149) translate(668 0) rotate(180)">U37108.1 Proteromonas lacertae</text>
<text class="lf e" transform="rotate(-145) translate(668 0) rotate(180)">KC148208 Blastocystis ST17</text>
<text class="lf e" transform="rotate(-141) translate(668 0) rotate(180)">AF408426 Blastocystis ST9</text>
<text class="lf e" transform="rotate(-137) translate(668 0) rotate(180)">AB070996 Blastocystis ST7</text>
<text class="lf e" transform="rotate(-133) translate(668 0) rotate(180)">141 Blasto ST4</text>
<text class="lf e" transform="rotate(-129) translate(668 0) rotate(180)">37 Blasto ST4</text>
<text class="lf e" transform="rotate(-125) translate(668 0) rotate(180)">35 Blasto ST4</text>
<text class="lf e" transform="rotate(-121) translate(668 0) rotate(180)">AB107964 Blastocystis ST5</text>
<text class="lf e" transform="rotate(-117) translate(668 0) rotate(180)">EU427515 Blastocystis ST12</text>
<text class="lf e" transform="rotate(-113) translate(668 0) rotate(180)">KC148205.1 Blastocystis ST14</text>
<text class="lf e" transform="rotate(-109) translate(668 0) rotate(180)">KC148209 Blastocystis ST13</text>
<text class="lf e" transform="rotate(-105) translate(668 0) rotate(180)">AY244620.1 Blastocystis ST4</text>
<text class="lf e" transform="rotate(-101) translate(668 0) rotate(180)">AB107971 Blastocystis ST8</text>
<text class="lf e" transform="rotate(-97) translate(668 0) rotate(180)">GU256900 Blastocystis ST11</text>
<text class="lf e" transform="rotate(-93) translate(668 0) rotate(180)">KC148207 Blastocystis ST10</text>
</g>
</g>
<g id="chart">
<g id="axes">
<line class="axl" x1="252" y1="1275" x2="252" y2="2047"/>
<line class="axl" x1="252" y1="2047" x2="1308" y2="2047"/>
</g>
<g id="y-ticks" class="s ax" text-anchor="end">
<text x="208" y="1297">35%</text><text x="208" y="1407">30%</text><text x="208" y="1517">25%</text><text x="208" y="1627">20%</text>
<text x="208" y="1737">15%</text><text x="208" y="1847">10%</text><text x="208" y="1957">5%</text><text x="208" y="2067">0%</text>
</g>
<text class="s" transform="translate(62 1661) rotate(-90)" text-anchor="middle" font-size="37" font-weight="bold">Percentage (%)</text>
<g id="bar-4"><rect x="276.2" y="1598" width="69" height="448" fill="#0000ff"/><text class="s xl" x="310.7" y="1565" font-size="38">20%</text><text class="s xl" x="310.7" y="2125">allele</text><text class="s xl" x="310.7" y="2179">4</text></g>
<g id="bar-9"><rect x="393.4" y="1897" width="69" height="149" fill="#ff0000"/><text class="s xl" x="427.9" y="1864">7%</text><text class="s xl" x="427.9" y="2125">allele</text><text class="s xl" x="427.9" y="2179">9</text></g>
<g id="bar-11"><rect x="510.7" y="1822" width="69" height="224" fill="#ff0000"/><text class="s xl" x="545.2" y="1789">10%</text><text class="s xl" x="545.2" y="2125">allele</text><text class="s xl" x="545.2" y="2179">11</text></g>
<g id="bar-12"><rect x="628" y="1897" width="69" height="149" fill="#ff0000"/><text class="s xl" x="662.5" y="1864">7%</text><text class="s xl" x="662.5" y="2125">allele</text><text class="s xl" x="662.5" y="2179">12</text></g>
<g id="bar-13"><rect x="745.3" y="2010" width="69" height="36" fill="#ff0000"/><text class="s xl" x="779.8" y="1977">2%</text><text class="s xl" x="779.8" y="2125">allele</text><text class="s xl" x="779.8" y="2179">13</text></g>
<g id="bar-34"><rect x="862.6" y="1374" width="69" height="672" fill="#4a003c"/><text class="s xl" x="897.1" y="1341">31%</text><text class="s xl" x="897.1" y="2125">allele</text><text class="s xl" x="897.1" y="2179">34</text></g>
<g id="bar-42"><rect x="979.9" y="1897" width="69" height="149" fill="#008000"/><text class="s xl" x="1014.4" y="1864">7%</text><text class="s xl" x="1014.4" y="2125">allele</text><text class="s xl" x="1014.4" y="2179">42</text></g>
<g id="bar-122"><rect x="1097.2" y="2010" width="69" height="36" fill="#00e5ff"/><text class="s xl" x="1131.7" y="1977">2%</text><text class="s xl" x="1131.7" y="2125">allele</text><text class="s xl" x="1131.7" y="2179">122</text></g>
<g id="bar-162"><rect x="1214.5" y="1708" width="69" height="338" fill="#ff6600"/><text class="s xl" x="1249" y="1675">15%</text><text class="s xl" x="1249" y="2125">allele</text><text class="s xl" x="1249" y="2179">162</text></g>
</g>
</svg>
